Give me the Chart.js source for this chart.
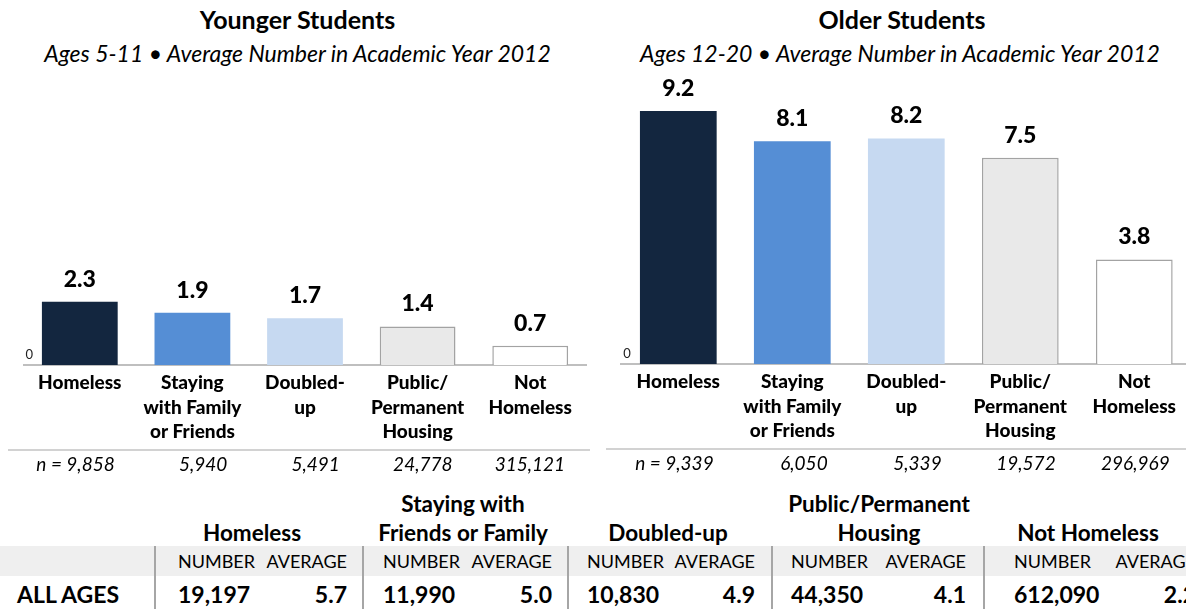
<!DOCTYPE html>
<html>
<head>
<meta charset="utf-8">
<title>Average number by housing status</title>
<script src="https://cdn.jsdelivr.net/npm/chart.js@4"></script>
<style>
  html, body { margin: 0; padding: 0; background: #fff; }
  body {
    width: 1186px; height: 609px; overflow: hidden; position: relative;
    font-family: Lato, "Open Sans", sans-serif; color: #000;
  }
  .title { position: absolute; text-align: center; font-weight: 700; font-size: 25px; line-height: 24px; }
  .sub { position: absolute; text-align: center; font-style: italic; font-size: 23px; line-height: 24px; }
  canvas { position: absolute; }
  .cell { position: absolute; white-space: nowrap; }
  .grp { font-weight: 700; font-size: 22.5px; line-height: 29px; text-align: center; width: 240px; top: 489px; white-space: pre; }
  .band { position: absolute; left: 0; width: 1186px; top: 546px; height: 30px; background: #efefef; }
  .hdr { font-size: 18px; line-height: 30px; top: 546px; }
  .val { font-weight: 700; font-size: 23px; line-height: 30px; top: 579px; }
  .sep { position: absolute; top: 546px; height: 63px; width: 2px; background: #a6a6a6; }
</style>
</head>
<body>

<div class="title" style="left:0; width:595px; top:7px;">Younger Students</div>
<div class="sub" style="left:0; width:595px; top:41px;">Ages 5-11 &bull; Average Number in Academic Year 2012</div>
<div class="title" style="left:602px; width:600px; top:7px;">Older Students</div>
<div class="sub" style="left:600px; width:600px; top:41px;">Ages 12-20 &bull; Average Number in Academic Year 2012</div>

<canvas id="chart-younger" width="595" height="410" style="left:0; top:70px;"></canvas>
<canvas id="chart-older" width="600" height="410" style="left:600px; top:69px;"></canvas>

<div id="table"></div>

<script>
// categories and values
const categoryLabels = [
  ['Homeless'],
  ['Staying', 'with Family', 'or Friends'],
  ['Doubled-', 'up'],
  ['Public/', 'Permanent', 'Housing'],
  ['Not', 'Homeless']
];
const youngerAverages = [2.3, 1.9, 1.7, 1.4, 0.7];
const olderAverages = [9.2, 8.1, 8.2, 7.5, 3.8];
const youngerCounts = [9858, 5940, 5491, 24778, 315121];
const olderCounts = [9339, 6050, 5339, 19572, 296969];

const yTicks = [0];

// summary table, all ages
const tableGroups = [
  ['', 'Homeless'],
  ['Staying with', 'Friends or Family'],
  ['', 'Doubled-up'],
  ['Public/Permanent', 'Housing'],
  ['', 'Not Homeless']
];
const tableColumns = ['NUMBER', 'AVERAGE'];
const rowLabel = 'ALL AGES';
const allAgesNumbers = [19197, 11990, 10830, 44350, 612090];
const allAgesAverages = [5.7, 5.0, 4.9, 4.1, 2.2];

// table column geometry (px)
const sepX = [154, 362, 567, 771, 983];
const numLeft = [178, 383, 587, 791, 1014];
const avgRight = [347, 552, 755, 966, 1196];
const groupCenter = [252, 463, 668, 879, 1088];

const barColors = ['#13263f', '#558ed5', '#c6d9f1', '#e9e9e9', '#ffffff'];
const barBorders = ['#13263f', '#558ed5', '#c6d9f1', '#a3a3a3', '#a3a3a3'];
const barBorderWidths = [0, 0, 0, 1.5, 1.5];

const fmt = n => n.toLocaleString('en-US');

// value labels above the bars, the rule under the axis labels and the n row
const barAnnotations = {
  id: 'barAnnotations',
  afterDatasetsDraw(chart, args, opts) {
    const { ctx, chartArea } = chart;
    const meta = chart.getDatasetMeta(0);
    const values = chart.data.datasets[0].data;
    ctx.save();
    ctx.fillStyle = '#000';
    ctx.textBaseline = 'alphabetic';

    ctx.font = '900 23px Lato';
    ctx.textAlign = 'center';
    meta.data.forEach((bar, i) => {
      ctx.fillText(values[i].toFixed(1), bar.x, bar.y - 15);
    });

    ctx.strokeStyle = '#d2d2d2';
    ctx.lineWidth = 2;
    ctx.beginPath();
    ctx.moveTo(opts.lineFrom, chartArea.bottom + 85);
    ctx.lineTo(opts.lineTo, chartArea.bottom + 85);
    ctx.stroke();

    ctx.font = 'italic 19px Lato';
    ctx.textAlign = 'right';
    meta.data.forEach((bar, i) => {
      const txt = (i === 0 ? 'n = ' : '') + fmt(opts.counts[i]);
      ctx.fillText(txt, bar.x + bar.width / 2 - 3, chartArea.bottom + 106);
    });
    ctx.restore();
  }
};

function makeChart(id, values, counts, padding, line) {
  const canvas = document.getElementById(id);
  return new Chart(canvas.getContext('2d'), {
    type: 'bar',
    data: {
      labels: categoryLabels,
      datasets: [{
        data: values,
        backgroundColor: barColors,
        borderColor: barBorders,
        borderWidth: barBorderWidths,
        barPercentage: 0.673,
        categoryPercentage: 1
      }]
    },
    options: {
      responsive: false,
      animation: false,
      layout: { padding: padding },
      plugins: {
        legend: { display: false },
        tooltip: { enabled: false },
        barAnnotations: { counts: counts, lineFrom: line[0], lineTo: line[1] }
      },
      scales: {
        x: {
          grid: { display: false, drawTicks: false, tickLength: 0 },
          border: { display: true, color: '#bfbfbf', width: 2 },
          ticks: {
            color: '#000',
            padding: 6,
            maxRotation: 0,
            autoSkip: false,
            font: { family: 'Lato', weight: 900, size: 19, lineHeight: 1.29 }
          }
        },
        y: {
          min: 0,
          max: 10,
          afterBuildTicks: axis => { axis.ticks = yTicks.map(v => ({ value: v })); },
          grid: { display: false, drawTicks: false, tickLength: 0 },
          border: { display: false },
          ticks: {
            mirror: true,
            padding: 2,
            labelOffset: -10,
            color: '#222',
            font: { family: 'Lato', size: 13 }
          }
        }
      }
    },
    plugins: [barAnnotations]
  });
}

function buildTable() {
  const root = document.getElementById('table');
  const add = (cls, text, style) => {
    const d = document.createElement('div');
    d.className = cls;
    d.textContent = text;
    Object.assign(d.style, style);
    root.appendChild(d);
  };
  add('band', '', {});
  add('cell val', rowLabel, { left: '17px' });
  tableGroups.forEach((g, i) => {
    add('cell grp', g[0] + '\n' + g[1], { left: (groupCenter[i] - 120) + 'px' });
    add('sep', '', { left: sepX[i] + 'px' });
    add('cell hdr', tableColumns[0], { left: numLeft[i] + 'px' });
    add('cell hdr', tableColumns[1], { left: (avgRight[i] - 100) + 'px', width: '100px', textAlign: 'right' });
    add('cell val', fmt(allAgesNumbers[i]), { left: numLeft[i] + 'px' });
    add('cell val', allAgesAverages[i].toFixed(1), { left: (avgRight[i] - 100) + 'px', width: '100px', textAlign: 'right' });
  });
}

buildTable();
document.fonts.ready.then(() => {
  makeChart('chart-younger', youngerAverages, youngerCounts,
    { left: 19.5, right: 8.5, top: 20, bottom: 29.5 }, [8, 590]);
  makeChart('chart-older', olderAverages, olderCounts,
    { left: 17.3, right: 8.7, top: 20, bottom: 29.5 }, [6, 600]);
});
</script>
</body>
</html>
